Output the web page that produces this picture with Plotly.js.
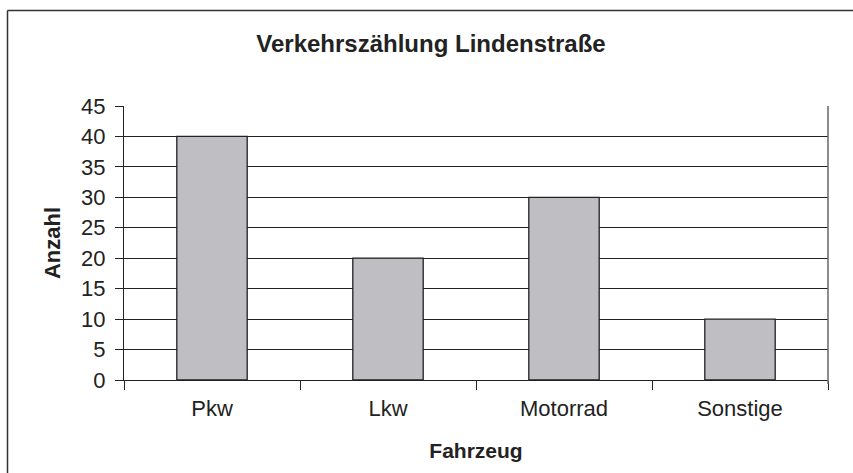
<!DOCTYPE html>
<html>
<head>
<meta charset="utf-8">
<script src="https://cdn.plot.ly/plotly-3.0.1.min.js"></script>
<style>html,body{margin:0;padding:0;background:#fff;}#chart{width:853px;height:473px;}</style>
</head>
<body>
<div id="chart"></div>
<script>
var categories = ["Pkw", "Lkw", "Motorrad", "Sonstige"];
var counts = [40, 20, 30, 10];
var yTicks = [0, 5, 10, 15, 20, 25, 30, 35, 40, 45];

var W = 853, H = 473, ML = 124, MR = 25, MT = 106, MB = 93;
var PW = W - ML - MR, PH = H - MT - MB;
function px(x) { return (x - ML) / PW; }
function py(y) { return (H - MB - y) / PH; }

var trace = {
  type: "bar",
  x: categories,
  y: counts,
  width: 0.4,
  marker: { color: "#bebec3", line: { color: "#222222", width: 1.3 } },
  hoverinfo: "x+y"
};

var font = { family: "Liberation Sans, Arial, sans-serif", color: "#222222" };

var layout = {
  width: W, height: H,
  margin: { l: ML, r: MR, t: MT, b: MB, pad: 0 },
  paper_bgcolor: "#ffffff",
  plot_bgcolor: "#ffffff",
  showlegend: false,
  font: font,
  title: {
    text: "Verkehrszählung Lindenstraße",
    font: { family: font.family, size: 24, weight: "bold", color: "#222222" },
    xref: "container", x: 431 / W, xanchor: "center",
    yref: "container", y: 1 - 44 / H, yanchor: "middle"
  },
  xaxis: {
    type: "category",
    range: [-0.5, 3.5],
    tickson: "boundaries",
    ticks: "outside", ticklen: 9, tickwidth: 1, tickcolor: "#222222",
    ticklabelstandoff: 9,
    showline: true, linecolor: "#222222", linewidth: 1,
    showgrid: false, zeroline: false,
    tickfont: { family: font.family, size: 22, color: "#222222" },
    title: { text: "Fahrzeug", standoff: 22,
      font: { family: font.family, size: 21, weight: "bold", color: "#222222" } },
    fixedrange: true
  },
  yaxis: {
    range: [0, 45],
    tickvals: yTicks,
    ticks: "outside", ticklen: 8, tickwidth: 1, tickcolor: "#222222",
    ticklabelstandoff: 5,
    showline: true, linecolor: "#222222", linewidth: 1,
    showgrid: true, gridcolor: "#222222", gridwidth: 1,
    zeroline: false,
    tickfont: { family: font.family, size: 22, color: "#222222" },
    title: { text: "Anzahl", standoff: 14,
      font: { family: font.family, size: 22, weight: "bold", color: "#222222" } },
    fixedrange: true
  },
  shapes: [
    { type: "line", xref: "paper", yref: "paper", x0: 1, x1: 1, y0: py(384), y1: 1,
      line: { color: "#666666", width: 1.5 } },
    { type: "line", xref: "paper", yref: "paper", x0: px(7.5), x1: px(7.5), y0: py(H + 5), y1: py(10.5),
      line: { color: "#333333", width: 1.5 } },
    { type: "line", xref: "paper", yref: "paper", x0: px(7.5), x1: px(W + 5), y0: py(10.5), y1: py(10.5),
      line: { color: "#333333", width: 1.5 } }
  ]
};

Plotly.newPlot("chart", [trace], layout, { displayModeBar: false, staticPlot: false });
</script>
</body>
</html>
